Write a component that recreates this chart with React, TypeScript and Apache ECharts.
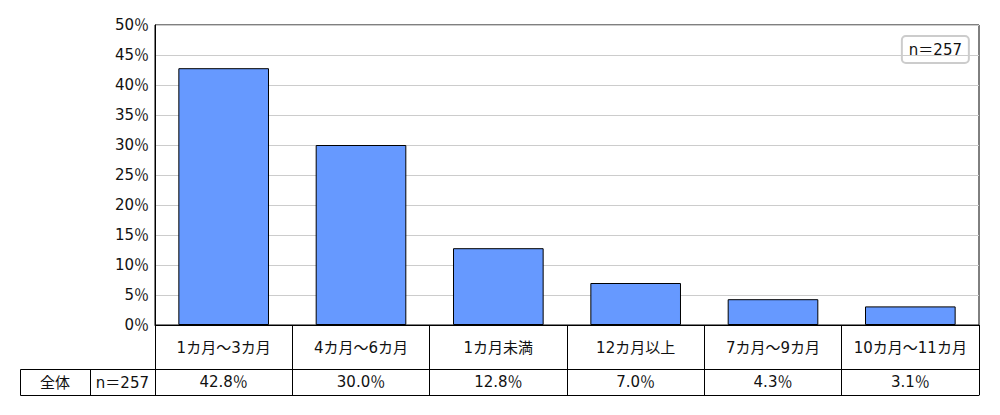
import React, { useEffect, useRef } from "react";
import * as echarts from "echarts";

const categories = ["1カ月～3カ月", "4カ月～6カ月", "1カ月未満", "12カ月以上", "7カ月～9カ月", "10カ月～11カ月"];
const values = [42.8, 30.0, 12.8, 7.0, 4.3, 3.1];
const rowLabel = "全体";
const sampleLabel = "n＝257";

const FONT = 'Verdana, "DejaVu Sans", "Noto Sans CJK JP", sans-serif';

export default function App() {
  const ref = useRef<HTMLDivElement>(null);
  useEffect(() => {
    if (!ref.current) return;
    const chart = echarts.init(ref.current, null, { renderer: "svg" });
    const textBase = { fontFamily: FONT, fontSize: 15, color: "#111" };
    chart.setOption({
      animation: false,
      backgroundColor: "#fff",
      title: {
        text: sampleLabel,
        right: 31,
        top: 36,
        padding: [5, 7],
        borderColor: "#ccc",
        borderWidth: 2,
        borderRadius: 4,
        textStyle: { ...textBase, fontWeight: "normal", lineHeight: 17 },
      },
      grid: {
        left: 155,
        right: 21,
        top: 25,
        bottom: 90,
        show: true,
        borderColor: "#000",
        borderWidth: 1,
        containLabel: false,
      },
      xAxis: [
        {
          type: "category",
          data: categories,
          position: "bottom",
          axisLine: { show: true, lineStyle: { color: "#000", width: 1 } },
          axisTick: { show: true, interval: 0, length: 44, lineStyle: { color: "#000" } },
          axisLabel: { ...textBase, interval: 0, margin: 15 },
        },
        {
          type: "category",
          data: categories,
          position: "bottom",
          offset: 44,
          axisLine: { show: true, lineStyle: { color: "#000", width: 1 } },
          axisTick: { show: true, interval: 0, length: 26, lineStyle: { color: "#000" } },
          axisLabel: {
            ...textBase,
            interval: 0,
            margin: 5,
            formatter: (_v: string, i: number) => values[i].toFixed(1) + "％",
          },
        },
        {
          type: "category",
          data: categories,
          position: "bottom",
          offset: 70,
          axisLine: { show: true, lineStyle: { color: "#000", width: 1 } },
          axisTick: { show: false },
          axisLabel: { show: false },
        },
      ],
      yAxis: {
        type: "value",
        min: 0,
        max: 50,
        interval: 5,
        axisLine: { show: true, lineStyle: { color: "#000" } },
        axisTick: { show: false },
        axisLabel: { ...textBase, margin: 6, formatter: "{value}％" },
        splitLine: { show: true, lineStyle: { color: "#ccc", width: 1 } },
      },
      graphic: [
        {
          type: "rect",
          shape: { x: 20.5, y: 369.5, width: 135, height: 26 },
          style: { fill: "none", stroke: "#000", lineWidth: 1 },
        },
        {
          type: "line",
          shape: { x1: 90.5, y1: 369.5, x2: 90.5, y2: 395.5 },
          style: { stroke: "#000", lineWidth: 1 },
        },
        {
          type: "text",
          x: 55,
          y: 382.5,
          style: { text: rowLabel, font: `15px ${FONT}`, fill: "#111", align: "center", verticalAlign: "middle" },
        },
        {
          type: "text",
          x: 149,
          y: 382.5,
          style: { text: sampleLabel, font: `15px ${FONT}`, fill: "#111", align: "right", verticalAlign: "middle" },
        },
      ],
      series: [
        {
          type: "bar",
          xAxisIndex: 0,
          data: values,
          barWidth: "66%",
          itemStyle: { color: "#6699ff", borderColor: "#000", borderWidth: 1 },
        },
      ],
    });
    return () => chart.dispose();
  }, []);
  return <div ref={ref} style={{ position: "fixed", left: 0, top: 0, width: 1000, height: 415 }} />;
}
